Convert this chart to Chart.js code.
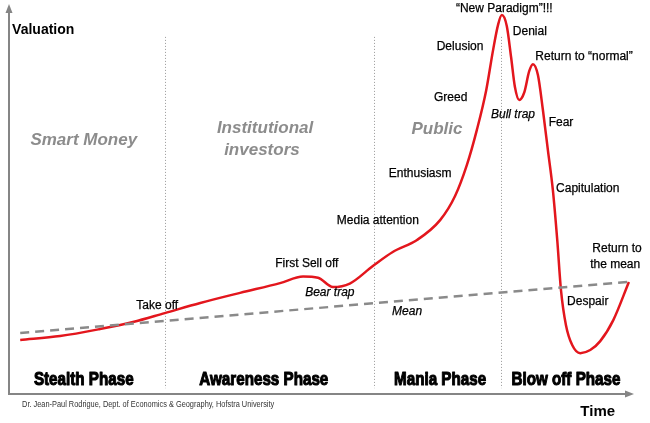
<!DOCTYPE html>
<html>
<head>
<meta charset="utf-8">
<script src="https://cdn.jsdelivr.net/npm/chart.js@4/dist/chart.umd.min.js"></script>
<style>
  html, body { margin: 0; padding: 0; background: #fff; }
  canvas { display: block; }
</style>
</head>
<body>
<canvas id="bubble" width="650" height="423"></canvas>
<script>
// time (0-100) and valuation (0-100) of the bubble path
const timeSteps = [1.8, 8.2, 14.6, 19.9, 25.0, 30.7, 37.1, 43.5, 47.2, 49.6, 52.0, 54.7, 58.4, 61.6,
  65.5, 69.2, 71.6, 73.5, 75.1, 76.6, 77.7, 78.5, 79.1, 79.9, 80.6, 81.2, 81.9, 82.7, 83.5, 84.1,
  84.9, 85.7, 86.5, 87.3, 88.0, 88.6, 89.4, 90.4, 91.7, 93.3, 94.9, 97.0, 99.5];
const valuation = [13.9, 14.9, 16.7, 18.5, 20.8, 23.4, 26.0, 28.5, 30.2, 29.9, 27.5, 28.4, 32.9, 36.5,
  39.6, 44.7, 50.9, 58.9, 67.9, 78.1, 88.4, 94.9, 97.4, 94.6, 86.5, 79.0, 75.6, 77.5, 83.0, 84.8,
  82.0, 73.0, 62.7, 52.4, 39.6, 26.7, 17.7, 12.6, 10.5, 11.3, 13.6, 19.0, 28.8];

const meanTime = [1.8, 99.4];
const meanValue = [15.7, 28.8];

const phaseBounds = [25.0, 58.6, 79.0];
const phaseNames = ['Stealth Phase', 'Awareness Phase', 'Mania Phase', 'Blow off Phase'];
const phaseCenters = [12.0, 40.9, 69.2, 89.4];

// [text, time, valuation]
const crowdLabels = [
  ['Smart Money', 12.0, 65.3],
  ['Institutional', 41.1, 68.4],
  ['investors', 40.6, 62.7],
  ['Public', 68.7, 68.1],
];
const moodLabels = [
  ['Take off', 23.8, 22.6],
  ['First Sell off', 47.8, 33.4],
  ['Media attention', 59.2, 44.5],
  ['Enthusiasm', 66.0, 56.6],
  ['Greed', 70.9, 76.3],
  ['Delusion', 72.4, 89.2],
  ['\u201cNew Paradigm\u201d!!!', 79.5, 99.0],
  ['Denial', 83.6, 93.1],
  ['Return to \u201cnormal\u201d', 92.3, 86.6],
  ['Fear', 88.6, 69.7],
  ['Capitulation', 92.9, 52.7],
  ['Return to', 97.6, 37.3],
  ['the mean', 97.3, 33.2],
  ['Despair', 92.9, 23.7],
];
const trapLabels = [
  ['Bear trap', 51.5, 26.0],
  ['Mean', 63.9, 21.1],
  ['Bull trap', 80.9, 71.7],
];

function pts(xs, ys) {
  return xs.map((x, i) => ({x, y: ys[i]}));
}

// squeeze < 1 fakes a condensed face, no narrow font is installed
function label(ctx, scales, text, x, y, font, color, align, squeeze, heavy) {
  ctx.font = font;
  ctx.fillStyle = color;
  ctx.textAlign = align || 'center';
  ctx.textBaseline = 'middle';
  const px = scales.x.getPixelForValue(x);
  const py = scales.y.getPixelForValue(y);
  const w = squeeze ? ctx.measureText(text).width * squeeze : undefined;
  ctx.fillText(text, px, py, w);
  if (heavy) {
    ctx.strokeStyle = color;
    ctx.lineWidth = heavy;
    ctx.lineJoin = 'round';
    ctx.strokeText(text, px, py, w);
  }
}

const backdrop = {
  id: 'backdrop',
  beforeDatasetsDraw(chart) {
    const {ctx, scales} = chart;
    const left = scales.x.getPixelForValue(0);
    const right = scales.x.getPixelForValue(100);
    const top = scales.y.getPixelForValue(100);
    const bottom = scales.y.getPixelForValue(0);
    ctx.save();
    // phase separators
    ctx.strokeStyle = '#999';
    ctx.lineWidth = 1;
    ctx.setLineDash([1, 2]);
    phaseBounds.forEach(t => {
      const px = Math.round(scales.x.getPixelForValue(t)) + 0.5;
      ctx.beginPath();
      ctx.moveTo(px, scales.y.getPixelForValue(91.8));
      ctx.lineTo(px, scales.y.getPixelForValue(1.5));
      ctx.stroke();
    });
    ctx.setLineDash([]);
    // axes with arrows
    ctx.strokeStyle = '#858585';
    ctx.fillStyle = '#858585';
    ctx.lineWidth = 2;
    ctx.beginPath();
    ctx.moveTo(left, top + 6);
    ctx.lineTo(left, bottom);
    ctx.lineTo(right - 4, bottom);
    ctx.stroke();
    ctx.beginPath();
    ctx.moveTo(left, top - 1);
    ctx.lineTo(left - 3.5, top + 8);
    ctx.lineTo(left + 3.5, top + 8);
    ctx.fill();
    ctx.beginPath();
    ctx.moveTo(right + 2, bottom);
    ctx.lineTo(right - 7, bottom - 3.5);
    ctx.lineTo(right - 7, bottom + 3.5);
    ctx.fill();
    ctx.restore();
  },
  afterDatasetsDraw(chart) {
    const {ctx, scales} = chart;
    const sans = '"Liberation Sans", Arial, sans-serif';
    ctx.save();
    crowdLabels.forEach(([t, x, y]) =>
      label(ctx, scales, t, x, y, 'italic bold 17px ' + sans, '#8c8c8c'));
    moodLabels.forEach(([t, x, y]) =>
      label(ctx, scales, t, x, y, '12px ' + sans, '#000', 'center', null, 0.25));
    trapLabels.forEach(([t, x, y]) =>
      label(ctx, scales, t, x, y, 'italic 12px ' + sans, '#000', 'center', null, 0.25));
    phaseNames.forEach((t, i) =>
      label(ctx, scales, t, phaseCenters[i], 3.6, 'bold 19px ' + sans, '#000', 'center', 0.8, 1.1));
    label(ctx, scales, 'Valuation', 0.5, 93.6, 'bold 14px ' + sans, '#000', 'left');
    label(ctx, scales, 'Time', 94.5, -4.6, 'bold 15px ' + sans, '#000');
    label(ctx, scales, 'Dr. Jean-Paul Rodrigue, Dept. of Economics & Geography, Hofstra University',
      2.1, -2.6, '9px ' + sans, '#333', 'left', 0.82);
    ctx.restore();
  }
};

new Chart(document.getElementById('bubble'), {
  type: 'line',
  data: {
    datasets: [{
      label: 'Mean',
      data: pts(meanTime, meanValue),
      borderColor: '#8a8a8a',
      borderWidth: 2.5,
      borderDash: [9, 6],
      pointRadius: 0,
    }, {
      label: 'Valuation',
      data: pts(timeSteps, valuation),
      borderColor: '#e3161d',
      borderWidth: 2.5,
      cubicInterpolationMode: 'monotone',
      pointRadius: 0,
    }]
  },
  options: {
    responsive: false,
    animation: false,
    layout: {
      padding: {left: 9, right: 18, top: 5, bottom: 29}
    },
    scales: {
      x: {type: 'linear', min: 0, max: 100, display: false},
      y: {min: 0, max: 100, display: false},
    },
    plugins: {
      legend: {display: false},
      tooltip: {enabled: false},
    },
  },
  plugins: [backdrop]
});
</script>
</body>
</html>
